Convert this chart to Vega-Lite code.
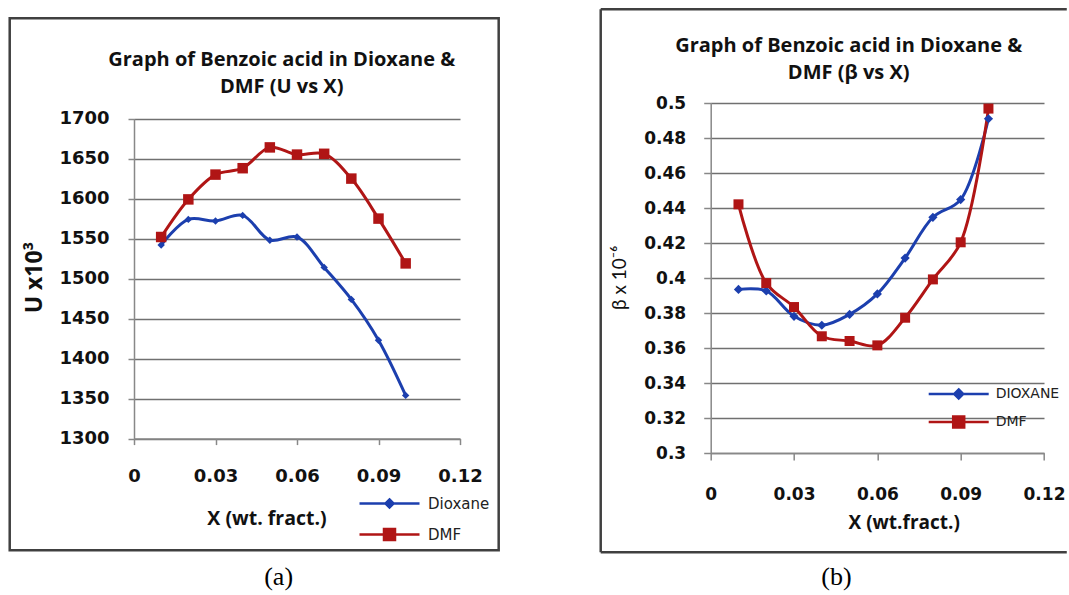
{
  "$schema": "https://vega.github.io/schema/vega-lite/v6.json",
  "padding": {"left": 8, "top": 8, "right": 0, "bottom": 0},
  "autosize": {"type": "pad"},
  "background": "white",
  "bounds": "flush",
  "spacing": 250.7,
  "config": {"view": {"stroke": null}},
  "resolve": {"scale": {"color": "independent"}, "legend": {"color": "independent"}},
  "hconcat": [
    {
      "width": 326,
      "height": 335.6,
      "data": {"values": [
        {"x": 0.01, "u": 1542, "s": "Dioxane"}, {"x": 0.02, "u": 1574, "s": "Dioxane"},
        {"x": 0.03, "u": 1572, "s": "Dioxane"}, {"x": 0.04, "u": 1579, "s": "Dioxane"},
        {"x": 0.05, "u": 1548, "s": "Dioxane"}, {"x": 0.06, "u": 1552, "s": "Dioxane"},
        {"x": 0.07, "u": 1514, "s": "Dioxane"}, {"x": 0.08, "u": 1474, "s": "Dioxane"},
        {"x": 0.09, "u": 1423, "s": "Dioxane"}, {"x": 0.10, "u": 1354, "s": "Dioxane"},
        {"x": 0.01, "u": 1552, "s": "DMF"}, {"x": 0.02, "u": 1599, "s": "DMF"},
        {"x": 0.03, "u": 1630, "s": "DMF"}, {"x": 0.04, "u": 1638, "s": "DMF"},
        {"x": 0.05, "u": 1664, "s": "DMF"}, {"x": 0.06, "u": 1655, "s": "DMF"},
        {"x": 0.07, "u": 1656, "s": "DMF"}, {"x": 0.08, "u": 1625, "s": "DMF"},
        {"x": 0.09, "u": 1575, "s": "DMF"}, {"x": 0.10, "u": 1519, "s": "DMF"}
      ]},
      "layer": [
        {
          "data": {"values": [{}]},
          "mark": {"type": "rect", "filled": false, "stroke": "#404040", "strokeWidth": 2.5},
          "encoding": {
            "x": {"datum": -0.04575, "type": "quantitative", "scale": {"domain": [0, 0.12], "nice": false, "zero": false}, "title": "X (wt. fract.)"},
            "x2": {"datum": 0.13424},
            "y": {"datum": 1825.4, "type": "quantitative", "scale": {"domain": [1300, 1700], "nice": false, "zero": false, "range": [335.6, 15.6]}, "title": "U x10³"},
            "y2": {"datum": 1160.4}
          }
        },
        {
          "data": {"values": [{}]},
          "mark": {"type": "text", "text": ["Graph of Benzoic acid in Dioxane &", "DMF  (U vs X)"], "font": "Open Sans", "fontWeight": "bold", "fontSize": 20, "lineHeight": 26.5, "align": "center", "baseline": "middle", "color": "#111"},
          "encoding": {
            "x": {"datum": 0.05437, "type": "quantitative", "title": "X (wt. fract.)"},
            "y": {"datum": 1772.9, "type": "quantitative", "title": "U x10³"}
          }
        },
        {
          "data": {"values": [{}]},
          "mark": {"type": "text", "text": "(a)", "font": "Liberation Serif", "fontSize": 26, "align": "center", "baseline": "middle", "color": "#000"},
          "encoding": {
            "x": {"datum": 0.05323, "type": "quantitative", "title": "X (wt. fract.)"},
            "y": {"datum": 1126.6, "type": "quantitative", "title": "U x10³"}
          }
        },
        {
          "mark": {"type": "line", "interpolate": "catmull-rom", "strokeWidth": 3},
          "encoding": {
            "x": {"field": "x", "type": "quantitative", "scale": {"domain": [0, 0.12], "nice": false, "zero": false},
              "axis": {"values": [0, 0.03, 0.06, 0.09, 0.12], "tickCount": 30, "format": ".2~f", "grid": false, "labelFlush": false, "labelOverlap": false,
                "domainColor": "#888", "domainWidth": 1.5, "tickColor": "#888", "tickWidth": 1.5, "tickSize": 6,
                "labelFont": "DejaVu Sans", "labelFontWeight": "bold", "labelFontSize": 18, "labelColor": "#111", "labelPadding": 23,
                "titleFont": "Open Sans", "titleFontWeight": "bold", "titleFontSize": 19.5, "titleColor": "#111",
                "titleX": 132.5, "titleY": 79.7, "titleAlign": "center", "titleBaseline": "middle"},
              "title": "X (wt. fract.)"},
            "y": {"field": "u", "type": "quantitative", "scale": {"domain": [1300, 1700], "nice": false, "zero": false, "range": [335.6, 15.6]},
              "axis": {"values": [1300, 1350, 1400, 1450, 1500, 1550, 1600, 1650, 1700], "tickCount": 30, "format": "d", "grid": true, "labelOverlap": false,
                "gridColor": "#707070", "gridWidth": 1.5, "domainColor": "#888", "domainWidth": 1.5, "tickColor": "#888", "tickWidth": 1.5, "tickSize": 6,
                "labelFont": "DejaVu Sans", "labelFontWeight": "bold", "labelFontSize": 18, "labelColor": "#111", "labelPadding": 19,
                "titleFont": "Open Sans", "titleFontWeight": "bold", "titleFontSize": 23, "titleColor": "#111", "titleAngle": 270,
                "titleX": -99.3, "titleY": 174, "titleAlign": "center", "titleBaseline": "middle"},
              "title": "U x10³"},
            "color": {"field": "s", "type": "nominal",
              "scale": {"domain": ["Dioxane", "DMF"], "range": ["#1c3fae", "#b01515"]},
              "legend": {"orient": "none", "legendX": 248, "legendY": 393, "title": null, "padding": 0,
                "symbolType": "M-6,0H6", "symbolSize": 100, "symbolStrokeWidth": 2.5,
                "labelFont": "DejaVu Sans", "labelFontSize": 15, "labelColor": "#222", "labelOffset": 31, "rowPadding": 11,
                "encode": {"symbols": {"update": {
                  "shape": {"signal": "datum.value === 'DMF' ? 'M-6,0H6M-1.1,-1.1H1.1V1.1H-1.1Z' : 'M-6,0H6M0,-0.8L0.8,0L0,0.8L-0.8,0Z'"},
                  "fill": {"signal": "datum.value === 'DMF' ? '#b01515' : '#1c3fae'"},
                  "stroke": {"signal": "datum.value === 'DMF' ? '#b01515' : '#1c3fae'"},
                  "strokeWidth": {"value": 2.5},
                  "opacity": {"value": 1}
                }}}}
            }
          }
        },
        {
          "mark": {"type": "point", "filled": true, "opacity": 1},
          "encoding": {
            "x": {"field": "x", "type": "quantitative", "title": "X (wt. fract.)"},
            "y": {"field": "u", "type": "quantitative", "title": "U x10³"},
            "shape": {"condition": {"test": "datum.s === 'DMF'", "value": "square"}, "value": "diamond"},
            "size": {"condition": {"test": "datum.s === 'DMF'", "value": 110}, "value": 55},
            "color": {"condition": {"test": "datum.s === 'DMF'", "value": "#b01515"}, "value": "#1c3fae"}
          }
        }
      ]
    },
    {
      "width": 333.3,
      "height": 350,
      "data": {"values": [
        {"x": 0.01, "b": 0.3935, "s": "DIOXANE"}, {"x": 0.02, "b": 0.3926, "s": "DIOXANE"},
        {"x": 0.03, "b": 0.3781, "s": "DIOXANE"}, {"x": 0.04, "b": 0.3730, "s": "DIOXANE"},
        {"x": 0.05, "b": 0.3792, "s": "DIOXANE"}, {"x": 0.06, "b": 0.3909, "s": "DIOXANE"},
        {"x": 0.07, "b": 0.4114, "s": "DIOXANE"}, {"x": 0.08, "b": 0.4347, "s": "DIOXANE"},
        {"x": 0.09, "b": 0.4448, "s": "DIOXANE"}, {"x": 0.10, "b": 0.4910, "s": "DIOXANE"},
        {"x": 0.01, "b": 0.4421, "s": "DMF"}, {"x": 0.02, "b": 0.3971, "s": "DMF"},
        {"x": 0.03, "b": 0.3834, "s": "DMF"}, {"x": 0.04, "b": 0.3667, "s": "DMF"},
        {"x": 0.05, "b": 0.3640, "s": "DMF"}, {"x": 0.06, "b": 0.3615, "s": "DMF"},
        {"x": 0.07, "b": 0.3773, "s": "DMF"}, {"x": 0.08, "b": 0.3992, "s": "DMF"},
        {"x": 0.09, "b": 0.4204, "s": "DMF"}, {"x": 0.10, "b": 0.4968, "s": "DMF"}
      ]},
      "layer": [
        {
          "data": {"values": [{}]},
          "mark": {"type": "rule", "stroke": "#404040", "strokeWidth": 2.5},
          "encoding": {
            "x": {"datum": -0.0396, "type": "quantitative", "scale": {"domain": [0, 0.12], "nice": false, "zero": false}, "title": "X (wt.fract.)"},
            "y": {"datum": 0.55354, "type": "quantitative", "scale": {"domain": [0.3, 0.5], "nice": false, "zero": false}, "title": "β x 10⁻⁶"},
            "y2": {"datum": 0.24326}
          }
        },
        {
          "data": {"values": [{"e": 0.55354}, {"e": 0.24326}]},
          "mark": {"type": "rule", "stroke": "#404040", "strokeWidth": 2.5},
          "encoding": {
            "x": {"datum": -0.0396, "type": "quantitative", "title": "X (wt.fract.)"},
            "x2": {"datum": 0.1282},
            "y": {"field": "e", "type": "quantitative", "title": "β x 10⁻⁶"}
          }
        },
        {
          "data": {"values": [{}]},
          "mark": {"type": "text", "text": ["Graph of Benzoic acid in Dioxane &", "DMF (β vs X)"], "font": "Open Sans", "fontWeight": "bold", "fontSize": 20, "lineHeight": 27, "align": "center", "baseline": "middle", "color": "#111"},
          "encoding": {
            "x": {"datum": 0.04968, "type": "quantitative", "title": "X (wt.fract.)"},
            "y": {"datum": 0.53263, "type": "quantitative", "title": "β x 10⁻⁶"}
          }
        },
        {
          "data": {"values": [{}]},
          "mark": {"type": "text", "text": "(b)", "font": "Liberation Serif", "fontSize": 26, "align": "center", "baseline": "middle", "color": "#000"},
          "encoding": {
            "x": {"datum": 0.04529, "type": "quantitative", "title": "X (wt.fract.)"},
            "y": {"datum": 0.22897, "type": "quantitative", "title": "β x 10⁻⁶"}
          }
        },
        {
          "mark": {"type": "line", "interpolate": "catmull-rom", "strokeWidth": 3},
          "encoding": {
            "x": {"field": "x", "type": "quantitative", "scale": {"domain": [0, 0.12], "nice": false, "zero": false},
              "axis": {"values": [0, 0.03, 0.06, 0.09, 0.12], "tickCount": 30, "format": ".2~f", "grid": false, "labelFlush": false, "labelOverlap": false,
                "domainColor": "#888", "domainWidth": 1.5, "tickColor": "#888", "tickWidth": 1.5, "tickSize": 7,
                "labelFont": "DejaVu Sans", "labelFontWeight": "bold", "labelFontSize": 17, "labelColor": "#111", "labelPadding": 26,
                "titleFont": "Open Sans", "titleFontWeight": "bold", "titleFontSize": 19, "titleColor": "#111",
                "titleX": 193, "titleY": 69, "titleAlign": "center", "titleBaseline": "middle"},
              "title": "X (wt.fract.)"},
            "y": {"field": "b", "type": "quantitative", "scale": {"domain": [0.3, 0.5], "nice": false, "zero": false},
              "axis": {"values": [0.3, 0.32, 0.34, 0.36, 0.38, 0.4, 0.42, 0.44, 0.46, 0.48, 0.5], "tickCount": 30, "format": ".2~f", "grid": true, "labelOverlap": false,
                "gridColor": "#707070", "gridWidth": 1.5, "domainColor": "#888", "domainWidth": 1.5, "tickColor": "#888", "tickWidth": 1.5, "tickSize": 7,
                "labelFont": "DejaVu Sans", "labelFontWeight": "bold", "labelFontSize": 17, "labelColor": "#111", "labelPadding": 18,
                "titleFont": "Lato", "titleFontWeight": "normal", "titleFontSize": 19, "titleColor": "#111", "titleAngle": 270,
                "titleX": -91, "titleY": 174.3, "titleAlign": "center", "titleBaseline": "middle"},
              "title": "β x 10⁻⁶"},
            "color": {"field": "s", "type": "nominal",
              "scale": {"domain": ["DIOXANE", "DMF"], "range": ["#1c3fae", "#b01515"]},
              "legend": {"orient": "none", "legendX": 241, "legendY": 284, "title": null, "padding": 0,
                "symbolType": "M-6,0H6", "symbolSize": 100, "symbolStrokeWidth": 2.5,
                "labelFont": "DejaVu Sans", "labelFontSize": 14, "labelColor": "#222", "labelOffset": 30, "rowPadding": 7,
                "encode": {"symbols": {"update": {
                  "shape": {"signal": "datum.value === 'DMF' ? 'M-6,0H6M-1.1,-1.1H1.1V1.1H-1.1Z' : 'M-6,0H6M0,-0.9L0.9,0L0,0.9L-0.9,0Z'"},
                  "fill": {"signal": "datum.value === 'DMF' ? '#b01515' : '#1c3fae'"},
                  "stroke": {"signal": "datum.value === 'DMF' ? '#b01515' : '#1c3fae'"},
                  "strokeWidth": {"value": 2.5},
                  "opacity": {"value": 1}
                }}}}
            }
          }
        },
        {
          "mark": {"type": "point", "filled": true, "opacity": 1},
          "encoding": {
            "x": {"field": "x", "type": "quantitative", "title": "X (wt.fract.)"},
            "y": {"field": "b", "type": "quantitative", "title": "β x 10⁻⁶"},
            "shape": {"condition": {"test": "datum.s === 'DMF'", "value": "square"}, "value": "diamond"},
            "size": {"condition": {"test": "datum.s === 'DMF'", "value": 100}, "value": 85},
            "color": {"condition": {"test": "datum.s === 'DMF'", "value": "#b01515"}, "value": "#1c3fae"}
          }
        }
      ]
    }
  ]
}
